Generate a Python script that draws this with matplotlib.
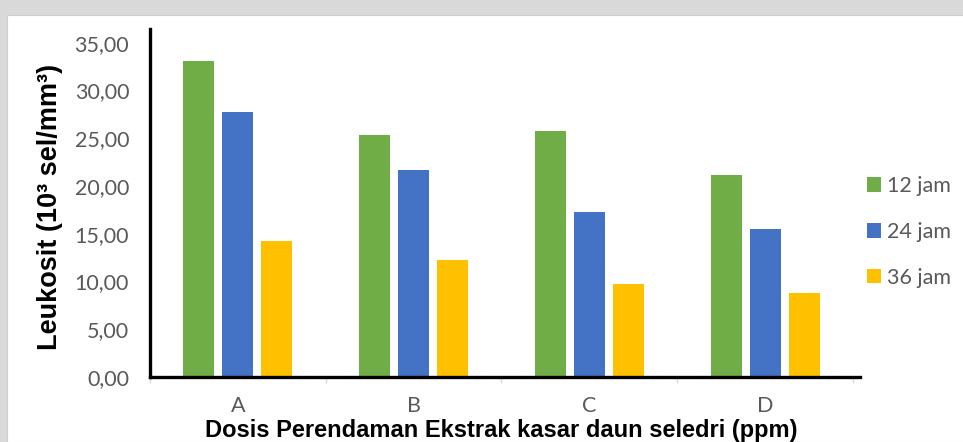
import matplotlib
matplotlib.use('Agg')
import matplotlib.pyplot as plt
import numpy as np
from matplotlib.patches import Rectangle

dosis = ['A', 'B', 'C', 'D']
jam_12 = [33.10, 25.35, 25.75, 21.20]
jam_24 = [27.70, 21.70, 17.30, 15.50]
jam_36 = [14.20, 12.20, 9.75, 8.80]
seri = ['12 jam', '24 jam', '36 jam']
warna = ['#70AD47', '#4472C4', '#FFC000']
yticks = [0, 5, 10, 15, 20, 25, 30, 35]

W, H = 963, 442
fig = plt.figure(figsize=(W / 100, H / 100), dpi=100, facecolor='#d9d9d9')
# white chart area
fig.patches.append(Rectangle((7 / W, 0), 1, 1 - 15 / H, transform=fig.transFigure,
                             facecolor='white', edgecolor='#cfcfcf', lw=0.8, zorder=-10))

ax = fig.add_axes([150 / W, 1 - 377 / H, 710 / W, 348 / H])
ax.set_facecolor('none')

x = np.arange(len(dosis))
lebar = 0.176
geser = 0.222
for i, (nilai, lbl) in enumerate(zip([jam_12, jam_24, jam_36], seri)):
    ax.bar(x + (i - 1) * geser, nilai, width=lebar, color=warna[i], label=lbl, zorder=2)

ax.set_xlim(-0.5, 3.54)
ax.set_ylim(0, 36.44)
ax.set_yticks(yticks)
ax.set_yticklabels([f'{v:.2f}'.replace('.', ',') for v in yticks])
ax.set_xticks(x)
ax.set_xticklabels(dosis)
ax.set_xticks(np.arange(-0.5, 4, 1), minor=True)

gray = '#595959'
ax.tick_params(axis='y', length=0, pad=15, labelsize=15.5, labelcolor=gray)
ax.tick_params(axis='x', which='major', length=0, pad=14, labelsize=15.5, labelcolor=gray)
ax.tick_params(axis='x', which='minor', length=4, width=1, color='#d9d9d9')
for t in ax.get_xticklabels() + ax.get_yticklabels():
    t.set_family('Lato')

for s in ['top', 'right']:
    ax.spines[s].set_visible(False)
for s in ['left', 'bottom']:
    ax.spines[s].set_linewidth(2.4)
    ax.spines[s].set_color('black')
    ax.spines[s].set_zorder(3)

ax.set_ylabel('Leukosit (10³ sel/mm³)', family='Liberation Sans', fontweight='bold',
              fontsize=19.5, va='center')
ax.yaxis.set_label_coords((50 - 150) / 710, (377 - 207) / 348)
ax.set_xlabel('Dosis Perendaman Ekstrak kasar daun seledri (ppm)', family='Liberation Sans',
              fontweight='bold', fontsize=17, va='center')
ax.xaxis.set_label_coords((501 - 150) / 710, (377 - 430) / 348)

leg = ax.legend(loc='center left', bbox_to_anchor=(867 / W, 1 - 232 / H),
                bbox_transform=fig.transFigure, frameon=False, borderpad=0,
                borderaxespad=0, handlelength=0.65, handleheight=0.65,
                handletextpad=0.3, labelspacing=1.2,
                prop={'family': 'Lato', 'size': 15.5})
for t in leg.get_texts():
    t.set_color(gray)

fig.savefig('out.png', dpi=100, facecolor=fig.get_facecolor())
